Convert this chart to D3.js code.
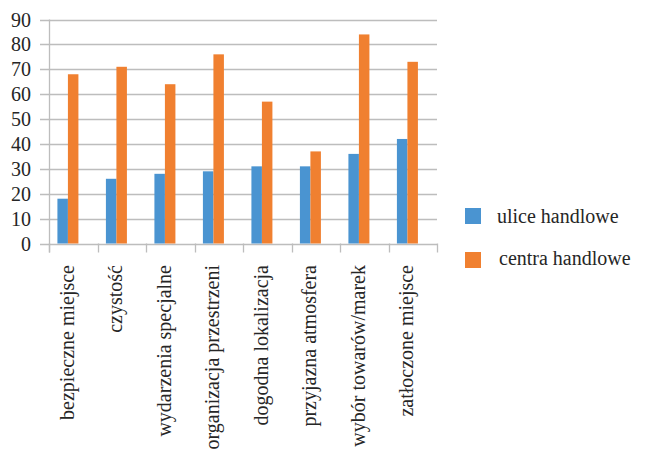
<!DOCTYPE html>
<html><head><meta charset="utf-8">
<script src="https://cdn.jsdelivr.net/npm/d3@7"></script>
</head><body style="margin:0"><svg id="c" width="657" height="459"></svg>
<script>
const categories = ["bezpieczne miejsce","czystość","wydarzenia specjalne","organizacja przestrzeni","dogodna lokalizacja","przyjazna atmosfera","wybór towarów/marek","zatłoczone miejsce"];
const seriesNames = ["ulice handlowe","centra handlowe"];
const uliceValues = [18,26,28,29,31,31,36,42];
const centraValues = [68,71,64,76,57,37,84,73];
const yTicks = [0,10,20,30,40,50,60,70,80,90];
const colors = ["#4a94d1","#f08030"];

const FONT = "'Liberation Serif'";
const svg = d3.select("#c");
const L = 49, R = 437, T = 19.5, B = 243.5;
const x0 = d3.scaleBand().domain(categories).range([L, R]);
const x1 = d3.scaleBand().domain(seriesNames).range([0, 21]);
const y = d3.scaleLinear().domain([0, 90]).range([B, T]);
const gridColor = "#bdbdbd";
const textColor = "#262626";

svg.append("g").selectAll("line").data(yTicks).join("line")
  .attr("x1", L - 9).attr("x2", R).attr("y1", d => Math.round(y(d)) + 0.5).attr("y2", d => Math.round(y(d)) + 0.5)
  .attr("stroke", gridColor).attr("stroke-width", 1.3);
svg.append("line").attr("x1", L + 0.5).attr("x2", L + 0.5).attr("y1", y(90)).attr("y2", B + 9)
  .attr("stroke", gridColor).attr("stroke-width", 1.3);
const tickXs = categories.map(c => x0(c)).concat([R]);
svg.append("g").selectAll("line").data(tickXs).join("line")
  .attr("x1", d => Math.round(d) + 0.5).attr("x2", d => Math.round(d) + 0.5).attr("y1", B).attr("y2", B + 9)
  .attr("stroke", gridColor).attr("stroke-width", 1.3);

svg.append("g").selectAll("text").data(yTicks).join("text")
  .attr("x", 31).attr("y", d => y(d)).attr("dy", "0.35em").attr("text-anchor", "end")
  .attr("font-size", 20).attr("fill", textColor).style("font-family", FONT, "important").text(d => d);

const pairStart = c => x0(c) + x0.bandwidth() * 0.39 - 10.5;
const data = categories.map((c, i) => ({c, vals: [uliceValues[i], centraValues[i]]}));
const g = svg.append("g").selectAll("g").data(data).join("g")
  .attr("transform", d => `translate(${pairStart(d.c)},0)`);
g.selectAll("rect").data(d => d.vals.map((v, k) => ({v, k}))).join("rect")
  .attr("x", d => x1(seriesNames[d.k]))
  .attr("width", x1.bandwidth())
  .attr("y", d => y(d.v)).attr("height", d => B - y(d.v))
  .attr("fill", d => colors[d.k]);

svg.append("g").selectAll("text").data(categories).join("text")
  .attr("transform", c => `translate(${x0(c) + x0.bandwidth() * 0.37},265) rotate(-90)`)
  .attr("text-anchor", "end").attr("dy", "0.35em").attr("font-size", 20)
  .attr("fill", textColor).style("font-family", FONT, "important").text(c => c);

const lg = svg.append("g").selectAll("g").data(seriesNames).join("g")
  .attr("transform", (d, i) => `translate(465,${208 + i * 44})`);
lg.append("rect").attr("width", 16).attr("height", 16).attr("fill", (d, i) => colors[i]);
lg.append("text").attr("x", (d, i) => i === 0 ? 32 : 34).attr("y", (d, i) => i === 0 ? 15 : 13)
  .attr("font-size", 20).attr("fill", textColor).style("font-family", FONT, "important").text(d => d);
</script></body></html>
